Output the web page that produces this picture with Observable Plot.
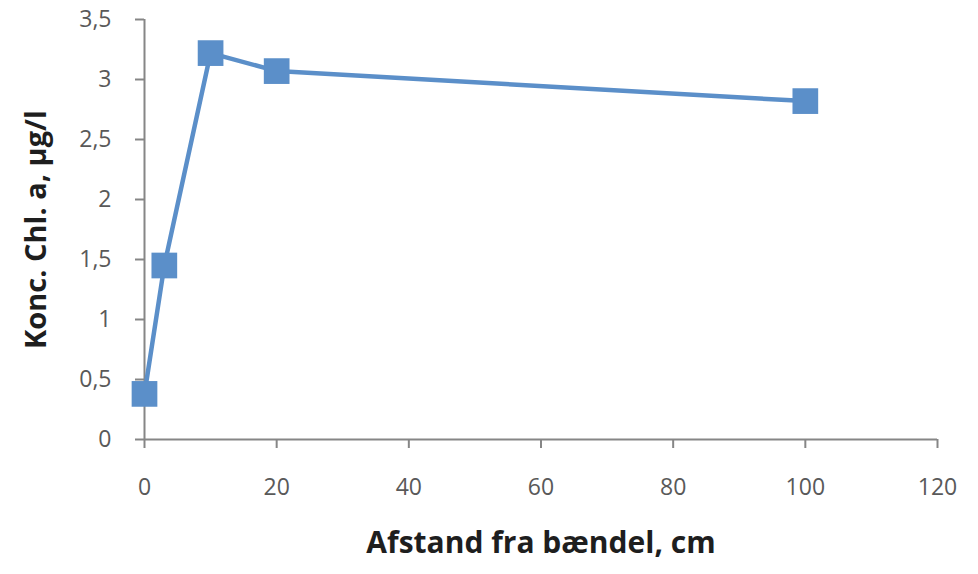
<!DOCTYPE html>
<html>
<head>
<meta charset="utf-8">
<script src="https://cdn.jsdelivr.net/npm/d3@7"></script>
<script src="https://cdn.jsdelivr.net/npm/@observablehq/plot@0.6"></script>
<style>
  html, body { margin: 0; padding: 0; background: #fff; }
  #chart svg { display: block; }
</style>
</head>
<body>
<div id="chart"></div>
<script>
// Distance from the band (cm) and chlorophyll a concentration (µg/l)
const distance = [0, 3, 10, 20, 100];
const chlA = [0.38, 1.45, 3.22, 3.07, 2.82];
const xTicks = [0, 20, 40, 60, 80, 100, 120];
const yTicks = [0, 0.5, 1, 1.5, 2, 2.5, 3, 3.5];
const xTitle = "Afstand fra bændel, cm";
const yTitle = "Konc. Chl. a, µg/l";

const data = distance.map((d, i) => ({x: d, y: chlA[i]}));
const comma = v => String(v).replace(".", ",");
const blue = "#5b8fc9";
const axisGray = "#868686";
const font = "'Open Sans', Lato, sans-serif";

const chart = Plot.plot({
  width: 978,
  height: 574,
  marginLeft: 144,
  marginRight: 41,
  marginTop: 19,
  marginBottom: 135,
  style: {fontFamily: font, background: "#fff"},
  x: {domain: [0, 120], ticks: xTicks},
  y: {domain: [0, 3.5], ticks: yTicks},
  marks: [
    Plot.axisX({ticks: xTicks, tickSize: 9, tickPadding: 30, tickFormat: comma,
      fontSize: 23, color: "#595959", stroke: axisGray, strokeWidth: 2, label: null}),
    Plot.axisY({ticks: yTicks, tickSize: 9, tickPadding: 24, tickFormat: comma,
      fontSize: 23, color: "#595959", stroke: axisGray, strokeWidth: 2, label: null}),
    Plot.ruleX([0], {stroke: axisGray, strokeWidth: 2}),
    Plot.ruleY([0], {stroke: axisGray, strokeWidth: 2}),
    Plot.line(data, {x: "x", y: "y", stroke: blue, strokeWidth: 4.5}),
    Plot.dot(data, {x: "x", y: "y", symbol: "square", r: 14.5, fill: blue, stroke: "none"}),
    Plot.text([xTitle], {frameAnchor: "bottom", dy: 113, fontSize: 30, fontWeight: "bold", fill: "#1e1e1e"}),
    Plot.text([yTitle], {frameAnchor: "left", dx: -108, rotate: -90, textAnchor: "middle",
      fontSize: 29, fontWeight: "bold", fill: "#1e1e1e"})
  ]
});
document.getElementById("chart").append(chart);
</script>
</body>
</html>
